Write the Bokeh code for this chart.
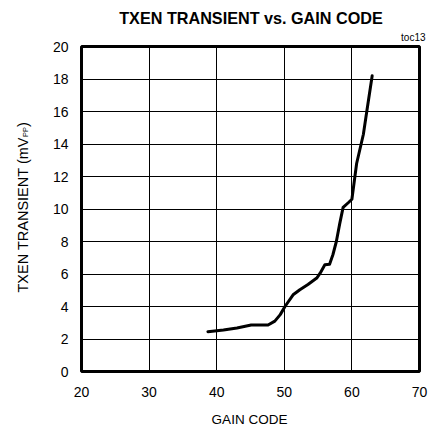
from bokeh.plotting import figure
from bokeh.models import Range1d, Label, FixedTicker
from bokeh.embed import file_html
from bokeh.resources import INLINE
import math

# Data
gain_code = [38.7, 41.0, 43.0, 45.1, 47.6, 48.6, 49.4, 50.1, 51.3, 52.3, 53.5, 54.8, 55.3,
             56.0, 56.7, 57.2, 57.7, 58.2, 58.7, 59.5, 60.0, 60.7, 61.7, 62.2, 63.0]
transient_mvpp = [2.45, 2.55, 2.68, 2.86, 2.86, 3.1, 3.5, 4.0, 4.72, 5.03, 5.35, 5.75, 6.05,
                  6.57, 6.6, 7.2, 8.0, 9.1, 10.1, 10.4, 10.6, 12.8, 14.6, 16.0, 18.2]
x_ticks = [20, 30, 40, 50, 60, 70]
y_ticks = [0, 2, 4, 6, 8, 10, 12, 14, 16, 18, 20]

FONT = "Liberation Sans"
W, H = 429, 427
LEFT, TOP, RIGHT, BOTTOM = 81, 46, 10, 56
FB = H - BOTTOM  # frame bottom, page px from top
X0, X1, Y0, Y1 = 20, 70, 0, 20
PXX = (W - LEFT - RIGHT) / (X1 - X0)
PXY = (H - TOP - BOTTOM) / (Y1 - Y0)


def dx(page_x):
    return X0 + (page_x - LEFT) / PXX


def dy(page_y):
    return Y0 + (FB - page_y) / PXY


p = figure(width=W, height=H, output_backend="svg", toolbar_location=None,
           x_range=Range1d(X0, X1), y_range=Range1d(Y0, Y1),
           min_border_left=LEFT, min_border_right=RIGHT, min_border_top=TOP,
           min_border_bottom=BOTTOM)
p.background_fill_color = "white"
p.border_fill_color = "white"
p.outline_line_color = "black"
p.outline_line_width = 3

for ax in (p.xaxis, p.yaxis):
    ax.axis_line_color = None
    ax.major_tick_line_color = None
    ax.minor_tick_line_color = None
    ax.major_tick_out = 0
    ax.major_tick_in = 0
    ax.minor_tick_out = 0
    ax.minor_tick_in = 0
    ax.major_label_text_font = FONT
    ax.major_label_text_font_size = "14px"
    ax.major_label_text_color = "black"
p.xaxis.ticker = FixedTicker(ticks=x_ticks)
p.yaxis.ticker = FixedTicker(ticks=y_ticks)
p.xaxis.major_label_standoff = 15
p.yaxis.major_label_standoff = 13

p.xgrid.ticker = FixedTicker(ticks=x_ticks)
p.ygrid.ticker = FixedTicker(ticks=y_ticks)
for g in (p.xgrid, p.ygrid):
    g.grid_line_color = "black"
    g.grid_line_width = 1
    g.grid_line_alpha = 1.0

p.line(gain_code, transient_mvpp, line_color="black", line_width=3, line_join="round", line_cap="round")

# Texts outside the frame: placed in side panels so they are not clipped
p.add_layout(Label(x=dx(250.5), y=dy(17), text="TXEN TRANSIENT vs. GAIN CODE", text_font=FONT,
                   text_font_size="16.2px", text_font_style="bold", text_align="center",
                   text_baseline="middle", text_color="black"), "above")
p.add_layout(Label(x=dx(425), y=dy(37), text="toc13",
                   text_font=FONT, text_font_size="10px", text_align="right",
                   text_baseline="middle", text_color="black"), "above")
p.add_layout(Label(x=dx(249), y=dy(419), text="GAIN CODE",
                   text_font=FONT, text_font_size="13.5px", text_align="center",
                   text_baseline="middle", text_color="black"), "below")
p.add_layout(Label(x=dx(22.5), y=dy(292),
                   text="TXEN TRANSIENT (mV", text_font=FONT, text_font_size="14.5px",
                   text_align="left", text_baseline="middle", angle=math.pi / 2,
                   text_color="black"), "left")
p.add_layout(Label(x=dx(24.5), y=dy(136.5),
                   text="PP", text_font=FONT, text_font_size="7.5px",
                   text_align="left", text_baseline="middle", angle=math.pi / 2,
                   text_color="black"), "left")
p.add_layout(Label(x=dx(22.5), y=dy(126.5),
                   text=")", text_font=FONT, text_font_size="14.5px",
                   text_align="left", text_baseline="middle", angle=math.pi / 2,
                   text_color="black"), "left")

open("out.html", "w").write(file_html(p, INLINE))
